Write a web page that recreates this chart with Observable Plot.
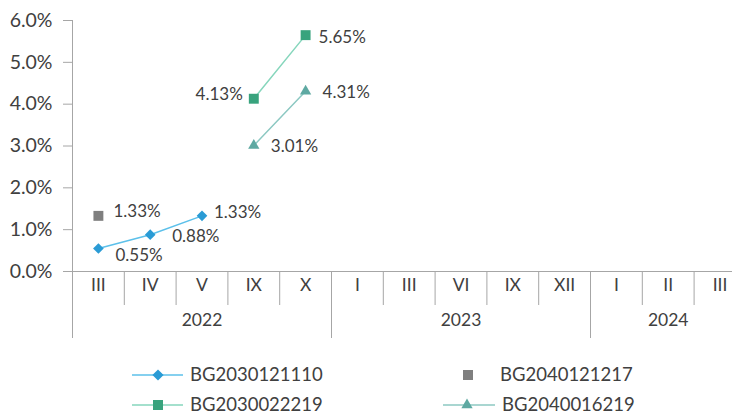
<!DOCTYPE html>
<html><head><meta charset="utf-8">
<script src="https://cdn.jsdelivr.net/npm/d3@7"></script>
<script src="https://cdn.jsdelivr.net/npm/@observablehq/plot@0.6"></script>
<style>
html,body{margin:0;padding:0;background:#fff;overflow:hidden;}
#chart{position:relative;width:732px;height:416px;font-family:Lato, sans-serif;}
#chart svg{display:block;}
</style></head><body><div id="chart"></div>
<script>
// ---- data ----
const months = ["III","IV","V","IX","X","I","III","VI","IX","XII","I","II","III"];
const years = ["2022","2023","2024"];
const yearSpans = [5, 5, 3];
const yTicks = [0, 1, 2, 3, 4, 5, 6];
const seriesNames = ["BG2030121110", "BG2040121217", "BG2030022219", "BG2040016219"];
const BG2030121110 = [0.55, 0.88, 1.33, null, null, null, null, null, null, null, null, null, null];
const BG2040121217 = [1.33, null, null, null, null, null, null, null, null, null, null, null, null];
const BG2030022219 = [null, null, null, 4.13, 5.65, null, null, null, null, null, null, null, null];
const BG2040016219 = [null, null, null, 3.01, 4.31, null, null, null, null, null, null, null, null];

// ---- styles ----
const TXT = "#404040", AX = "#a6a6a6";
const C = {
  blue: {marker: "#2a9bd5", line: "#5cc0ea"},
  gray: {marker: "#7f7f7f"},
  green: {marker: "#38a37d", line: "#86d6bc"},
  teal: {marker: "#5ea9a2", line: "#8cc8c2"}
};
const rows = arr => arr.map((v, i) => ({i, v})).filter(d => d.v != null);
const pct = v => v.toFixed(2) + "%";

const H = 345, plotTop = 20, plotBottom = 271;
const pxPerUnit = (plotBottom - plotTop) / 6;
const yShort = -(305 - plotBottom) / pxPerUnit;
const yLong = -(338 - plotBottom) / pxPerUnit;

const shortB = d3.range(1, 13).filter(b => b !== 5 && b !== 10);
const longB = [0, 5, 10];
const yearStarts = yearSpans.map((s, k) => d3.sum(yearSpans.slice(0, k)));

const fs = 17, fsAxis = 19.5, fsCat = 17.5;
function labels(data, offs) {
  return data.map((d, k) => Plot.text([d], {
    x: d => d.i + 0.5, y: "v", text: d => pct(d.v),
    dx: offs[k][0], dy: offs[k][1], textAnchor: offs[k][0] < 0 ? "end" : "start",
    fill: TXT, fontSize: fs
  }));
}

const b1 = rows(BG2030121110), b2 = rows(BG2040121217), b3 = rows(BG2030022219), b4 = rows(BG2040016219);

const plot = Plot.plot({
  width: 732, height: H,
  marginTop: plotTop, marginBottom: H - plotBottom, marginLeft: 72, marginRight: 0,
  style: {fontFamily: "Lato, sans-serif", color: TXT, background: "#fff", overflow: "hidden"},
  x: {type: "linear", domain: [0, 13], range: [72, 745.4], axis: null},
  y: {domain: [0, 6], range: [plotBottom, plotTop], axis: null},
  marks: [
    Plot.ruleX(shortB, {x: d => d, y1: 0, y2: yShort, stroke: AX}),
    Plot.ruleX(longB, {x: d => d, y1: 0, y2: yLong, stroke: AX}),
    Plot.ruleX([0], {x: d => d, y1: 0, y2: 6, stroke: AX}),
    Plot.ruleY([0], {stroke: AX}),
    Plot.axisY({ticks: yTicks, tickFormat: d => d.toFixed(1) + "%", tickSize: 9, tickPadding: 11,
      stroke: AX, fill: TXT, fontSize: fsAxis, label: null}),
    Plot.text(months, {x: (d, i) => i + 0.5, frameAnchor: "bottom", dy: 19, text: d => d, fill: TXT, fontSize: fsCat}),
    Plot.text(years, {x: (d, k) => yearStarts[k] + yearSpans[k] / 2, frameAnchor: "bottom", dy: 54, text: d => d, fill: TXT, fontSize: fsCat}),
    Plot.line(b1, {x: d => d.i + 0.5, y: "v", stroke: C.blue.line, strokeWidth: 1.5}),
    Plot.line(b3, {x: d => d.i + 0.5, y: "v", stroke: C.green.line, strokeWidth: 1.5}),
    Plot.line(b4, {x: d => d.i + 0.5, y: "v", stroke: C.teal.line, strokeWidth: 1.5}),
    Plot.dot(b1, {x: d => d.i + 0.5, y: "v", symbol: "diamond2", r: 4.8, fill: C.blue.marker}),
    Plot.dot(b2, {x: d => d.i + 0.5, y: "v", symbol: "square", r: 5.6, fill: C.gray.marker}),
    Plot.dot(b3, {x: d => d.i + 0.5, y: "v", symbol: "square", r: 5.6, fill: C.green.marker}),
    Plot.dot(b4, {x: d => d.i + 0.5, y: "v", symbol: "triangle", r: 4.2, fill: C.teal.marker}),
    ...labels(b1, [[17, 7], [22, 2], [12, -3]]),
    ...labels(b2, [[15, -4]]),
    ...labels(b3, [[-11, -4], [13, 2]]),
    ...labels(b4, [[17, 1], [17, 1]])
  ]
});
document.getElementById("chart").appendChild(plot);

// ---- legend ----
const leg = d3.select("#chart").append("svg").attr("width", 732).attr("height", 416 - H);
const items = [
  {name: seriesNames[0], cx: 158, cy: 375, line: [132, 183], sym: d3.symbolDiamond2, size: 80, c: C.blue, tx: 190},
  {name: seriesNames[1], cx: 468, cy: 375, line: null, sym: d3.symbolSquare, size: 100, c: C.gray, tx: 500},
  {name: seriesNames[2], cx: 158, cy: 405, line: [132, 183], sym: d3.symbolSquare, size: 100, c: C.green, tx: 190},
  {name: seriesNames[3], cx: 467, cy: 405, line: [443, 495], sym: d3.symbolTriangle, size: 55, c: C.teal, tx: 502}
];
for (const it of items) {
  const cy = it.cy - H;
  if (it.line) leg.append("line").attr("x1", it.line[0]).attr("x2", it.line[1]).attr("y1", cy).attr("y2", cy)
    .attr("stroke", it.c.line).attr("stroke-width", 1.5);
  leg.append("path").attr("d", d3.symbol(it.sym, it.size)()).attr("transform", `translate(${it.cx},${cy})`).attr("fill", it.c.marker);
  leg.append("text").attr("x", it.tx).attr("y", cy).attr("dy", "0.35em").attr("fill", TXT)
    .attr("font-family", "Lato, sans-serif").attr("font-size", 18.5).text(it.name);
}
</script></body></html>
